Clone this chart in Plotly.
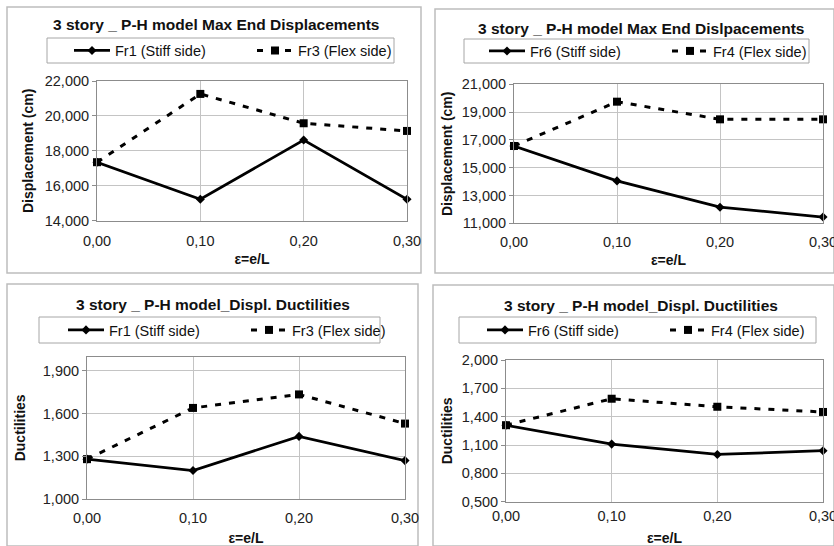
import plotly.graph_objects as go

# Eccentricity ratio e/L on the horizontal axis
eps = [0.0, 0.1, 0.2, 0.3]
eps_ticks = [0.0, 0.1, 0.2, 0.3]

# Max end displacements (cm)
fr1_disp = [17.35, 15.23, 18.62, 15.23]
fr3_disp = [17.35, 21.26, 19.58, 19.14]
fr6_disp = [16.56, 14.05, 12.16, 11.45]
fr4_disp = [16.56, 19.75, 18.48, 18.48]

# Displacement ductilities
fr1_duct = [1.28, 1.20, 1.44, 1.27]
fr3_duct = [1.28, 1.64, 1.735, 1.53]
fr6_duct = [1.31, 1.11, 1.00, 1.04]
fr4_duct = [1.31, 1.59, 1.505, 1.45]

disp_ticks_left = [14, 16, 18, 20, 22]
disp_ticks_right = [11, 13, 15, 17, 19, 21]
duct_ticks_left = [1.0, 1.3, 1.6, 1.9]
duct_ticks_right = [0.5, 0.8, 1.1, 1.4, 1.7, 2.0]

titles = [
    "3 story _ P-H model Max End Displacements",
    "3 story _ P-H model Max End Dislpacements",
    "3 story _ P-H model_Displ. Ductilities",
    "3 story _ P-H model_Displ. Ductilities",
]
y_titles = ["Displacement (cm)", "Displacement (cm)", "Ductilities", "Ductilities"]
x_title = "ε=e/L"

W, H = 834, 546
FONT = "'Liberation Sans', Arial, sans-serif"


def px_x(v):
    return v / W


def px_y(v):
    return 1 - v / H


# Pixel layout of each chart block: plot area, outer frame, title, legend box
panels = [
    dict(stiff=("Fr1 (Stiff side)", fr1_disp), flex=("Fr3 (Flex side)", fr3_disp),
         yrange=[14, 22], yticks=disp_ticks_left,
         plot=(97, 407, 81, 220.7), frame=(7, 421, 7, 273),
         title_xy=(216, 25), legend_box=(47, 394, 38, 63), sample_cx=91,
         ystandoff=7, xlabel_pad=7, xstandoff=6),
    dict(stiff=("Fr6 (Stiff side)", fr6_disp), flex=("Fr4 (Flex side)", fr4_disp),
         yrange=[11, 21], yticks=disp_ticks_right,
         plot=(514, 823, 84.3, 223.3), frame=(435, 834, 9, 273),
         title_xy=(641, 28), legend_box=(464, 809, 39, 63), sample_cx=506,
         ystandoff=5, xlabel_pad=5, xstandoff=6),
    dict(stiff=("Fr1 (Stiff side)", fr1_duct), flex=("Fr3 (Flex side)", fr3_duct),
         yrange=[1.0, 2.0], yticks=duct_ticks_left,
         plot=(87, 405, 356.7, 499), frame=(7, 418, 284, 546),
         title_xy=(213, 304), legend_box=(39, 380, 317, 343), sample_cx=85,
         ystandoff=13, xlabel_pad=6, xstandoff=11),
    dict(stiff=("Fr6 (Stiff side)", fr6_duct), flex=("Fr4 (Flex side)", fr4_duct),
         yrange=[0.5, 2.0], yticks=duct_ticks_right,
         plot=(506, 823, 360, 501.7), frame=(433, 834, 285, 546),
         title_xy=(641, 305), legend_box=(459, 816, 317, 343), sample_cx=504,
         ystandoff=5, xlabel_pad=1, xstandoff=11),
]

fig = go.Figure()
layout = dict(
    width=W, height=H,
    margin=dict(l=0, r=0, t=0, b=0, autoexpand=False),
    paper_bgcolor="white", plot_bgcolor="white",
    separators=",.",
    font=dict(family=FONT, size=14, color="#111"),
    showlegend=True,
)
shapes = []
annotations = []

for i, p in enumerate(panels, start=1):
    sfx = "" if i == 1 else str(i)
    xa, ya = "x" + sfx, "y" + sfx
    leg = "legend" + sfx

    sname, svals = p["stiff"]
    fname, fvals = p["flex"]
    fig.add_trace(go.Scatter(
        x=eps, y=svals, name=sname, mode="lines+markers",
        line=dict(color="black", width=2.75),
        marker=dict(symbol="diamond", size=7, color="black"),
        xaxis=xa, yaxis=ya, legend=leg, cliponaxis=False,
    ))
    fig.add_trace(go.Scatter(
        x=eps, y=fvals, name=fname, mode="lines+markers",
        line=dict(color="black", width=3, dash="6px,8px"),
        marker=dict(symbol="square", size=8, color="black"),
        xaxis=xa, yaxis=ya, legend=leg, cliponaxis=False,
    ))

    x0, x1, y0, y1 = p["plot"]
    layout["xaxis" + sfx] = dict(
        domain=[px_x(x0), px_x(x1)], anchor=ya,
        range=[0, 0.3], tickvals=eps_ticks, tickformat=".2f",
        showgrid=True, gridcolor="#c4c4c4", gridwidth=1,
        showline=True, linecolor="#8c8c8c", linewidth=1, mirror=True,
        ticks="", zeroline=False, automargin=False,
        ticklabelstandoff=p["xlabel_pad"], ticklabeloverflow="allow",
        tickfont=dict(size=14.5, color="#222"),
        title=dict(text=x_title, font=dict(size=14, color="#111", family=FONT, weight="bold"),
                   standoff=p["xstandoff"]),
    )
    layout["yaxis" + sfx] = dict(
        domain=[px_y(y1), px_y(y0)], anchor=xa,
        range=p["yrange"], tickvals=p["yticks"], tickformat=".3f",
        showgrid=True, gridcolor="#c4c4c4", gridwidth=1,
        showline=True, linecolor="#8c8c8c", linewidth=1, mirror=True,
        ticks="outside", ticklen=4, tickcolor="#8c8c8c", zeroline=False, automargin=False,
        tickfont=dict(size=14.5, color="#222"),
        title=dict(text=y_titles[i - 1], font=dict(size=14, color="#111", family=FONT, weight="bold"),
                   standoff=p["ystandoff"]),
    )

    # legend frame drawn as a box; legend entries sit inside it
    bx0, bx1, by0, by1 = p["legend_box"]
    shapes.append(dict(
        type="rect", xref="paper", yref="paper",
        x0=px_x(bx0), x1=px_x(bx1), y0=px_y(by1), y1=px_y(by0),
        line=dict(color="#a6a6a6", width=1), fillcolor="white", layer="below",
    ))
    layout[leg] = dict(
        x=px_x(p["sample_cx"] - 22), y=px_y((by0 + by1) / 2),
        xanchor="left", yanchor="middle",
        orientation="h", bgcolor="rgba(0,0,0,0)", borderwidth=0,
        font=dict(size=14.5, color="#111"),
        entrywidth=132, itemwidth=36,
    )

    fx0, fx1, fy0, fy1 = p["frame"]
    shapes.append(dict(
        type="rect", xref="paper", yref="paper",
        x0=px_x(fx0), x1=px_x(fx1), y0=px_y(fy1), y1=px_y(fy0),
        line=dict(color="#bdbdbd", width=1.5), fillcolor="rgba(0,0,0,0)", layer="below",
    ))

    tx, ty = p["title_xy"]
    annotations.append(dict(
        text="<b>" + titles[i - 1] + "</b>", xref="paper", yref="paper",
        x=px_x(tx), y=px_y(ty), xanchor="center", yanchor="middle",
        showarrow=False, font=dict(size=15.5, color="#111", family=FONT),
    ))

layout["shapes"] = shapes
layout["annotations"] = annotations
fig.update_layout(**layout)

fig.write_html("out.html")
